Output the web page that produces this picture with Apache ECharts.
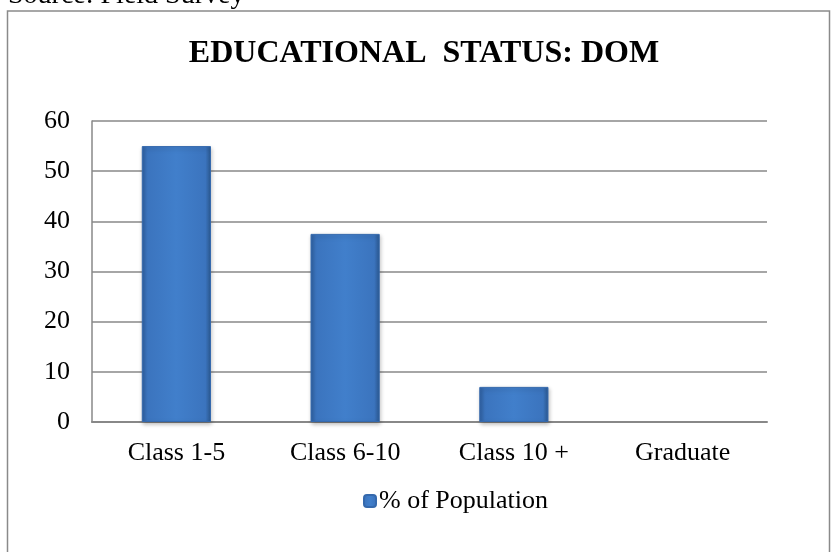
<!DOCTYPE html>
<html>
<head>
<meta charset="utf-8">
<script src="https://cdn.jsdelivr.net/npm/echarts@6/dist/echarts.min.js"></script>
<style>
  html, body { margin: 0; padding: 0; background: #fff; }
  #main { width: 832px; height: 552px; }
</style>
</head>
<body>
<div id="main"></div>
<script>
const categories = ["Class 1-5", "Class 6-10", "Class 10 +", "Graduate"];
const population = [55, 37.5, 7, 0];
const yTicks = [0, 10, 20, 30, 40, 50, 60];

const chart = echarts.init(document.getElementById("main"));
const font = "'Liberation Serif', 'Times New Roman', serif";

// horizontal shading so the bars look bevelled like the original
const barFill = new echarts.graphic.LinearGradient(0, 0, 1, 0, [
  { offset: 0, color: "#2e5f9f" },
  { offset: 0.08, color: "#3b74be" },
  { offset: 0.5, color: "#417fcb" },
  { offset: 0.92, color: "#3b74be" },
  { offset: 1, color: "#2b5890" },
]);

// zero bars should leave no trace (no border / shadow line)
const barData = population.map((v) =>
  v === 0
    ? { value: v, itemStyle: { borderWidth: 0, shadowBlur: 0, shadowOffsetX: 0, shadowOffsetY: 0, opacity: 0 } }
    : v
);

chart.setOption({
  animation: false,
  graphic: [
    {
      type: "rect",
      shape: { x: 7.5, y: 11, width: 822, height: 560 },
      style: { fill: "none", stroke: "#8a8a8a", lineWidth: 1.5 },
    },
    {
      type: "text",
      left: 8,
      top: -18,
      style: { text: "Source: Field Survey", font: "28px " + font, fill: "#000" },
    },
  ],
  title: {
    text: "EDUCATIONAL  STATUS: DOM",
    left: 419,
    textAlign: "center",
    top: 33,
    textStyle: { fontFamily: font, fontSize: 32, fontWeight: "bold", color: "#000" },
  },
  legend: {
    data: ["% of Population"],
    top: 483,
    left: 358,
    itemWidth: 12,
    itemHeight: 12,
    itemGap: 4,
    textStyle: { fontFamily: font, fontSize: 26, color: "#000", padding: [0, 0, 0, -2] },
  },
  grid: { left: 92, right: 65, top: 121, bottom: 130 },
  xAxis: {
    type: "category",
    data: categories,
    axisLine: { lineStyle: { color: "#888", width: 2 } },
    axisTick: { show: false },
    axisLabel: { fontFamily: font, fontSize: 26, color: "#000", margin: 18 },
  },
  yAxis: {
    type: "value",
    min: 0,
    max: 60,
    interval: 10,
    axisLine: { show: true, lineStyle: { color: "#888", width: 1.5 } },
    axisTick: { show: false },
    splitLine: { lineStyle: { color: "#888", width: 1.5 } },
    axisLabel: {
      fontFamily: font, fontSize: 26, color: "#000", margin: 22,
      formatter: (v) => (yTicks.includes(v) ? String(v) : ""),
    },
  },
  series: [
    {
      name: "% of Population",
      type: "bar",
      data: barData,
      barWidth: "41%",
      itemStyle: {
        color: barFill,
        borderColor: "#3569ad",
        borderWidth: 1,
        shadowColor: "rgba(0,0,0,0.25)",
        shadowBlur: 4,
        shadowOffsetX: 1,
        shadowOffsetY: 2,
      },
    },
  ],
});
</script>
</body>
</html>
